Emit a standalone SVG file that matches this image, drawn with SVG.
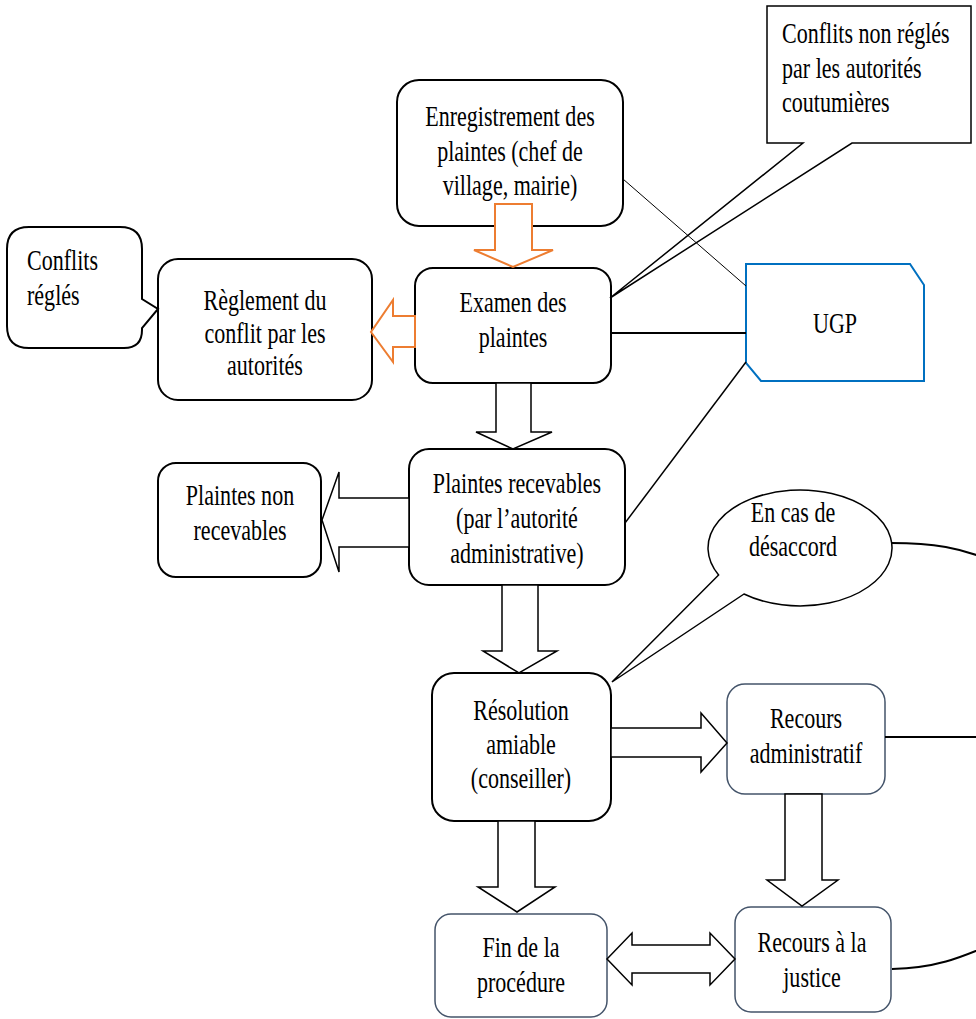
<svg xmlns="http://www.w3.org/2000/svg" width="976" height="1019" viewBox="0 0 976 1019">
<style>
.box{fill:#fff;stroke:#000;stroke-width:2}
.sbox{fill:#fff;stroke:#44546A;stroke-width:1.5}
.t{font-family:"Liberation Serif","Times New Roman",serif;font-size:29px;fill:#000;text-anchor:middle}
.l{text-anchor:start}
.ba{fill:#fff;stroke:#000;stroke-width:1.5;stroke-linejoin:miter}
.oa{fill:#fff;stroke:#ED7D31;stroke-width:2}
.ln{fill:none;stroke:#000}
</style>
<rect width="976" height="1019" fill="#fff"/>
<g id="nodes" font-family="Liberation Serif, serif">
<g id="enregistrement">
<rect class="box" x="397" y="80" width="226" height="146" rx="22"/>
<text class="t" transform="translate(510,126) scale(0.76,1)">Enregistrement des</text>
<text class="t" transform="translate(510,161) scale(0.76,1)">plaintes (chef de</text>
<text class="t" transform="translate(510,195) scale(0.76,1)">village, mairie)</text>
</g>
<g id="examen">
<rect class="box" x="415" y="268" width="196" height="115" rx="18"/>
<text class="t" transform="translate(513,312) scale(0.76,1)">Examen des</text>
<text class="t" transform="translate(513,347) scale(0.76,1)">plaintes</text>
</g>
<g id="reglement">
<rect class="box" x="158" y="259" width="214" height="141" rx="20"/>
<text class="t" transform="translate(265,310) scale(0.76,1)">Règlement du</text>
<text class="t" transform="translate(265,343) scale(0.76,1)">conflit par les</text>
<text class="t" transform="translate(265,375) scale(0.76,1)">autorités</text>
</g>
<g id="conflits-regles">
<path class="box" d="M29,227 H120 Q142,227 142,249 V299 L158,309 L142,328 V330 Q142,348 124,348 H29 Q7,348 7,326 V249 Q7,227 29,227 Z"/>
<text class="t l" transform="translate(27,270) scale(0.76,1)">Conflits</text>
<text class="t l" transform="translate(27,305) scale(0.76,1)">réglés</text>
</g>
<g id="non-recevables">
<rect class="box" x="158" y="463" width="163" height="114" rx="18"/>
<text class="t" transform="translate(240,505) scale(0.76,1)">Plaintes non</text>
<text class="t" transform="translate(240,540) scale(0.76,1)">recevables</text>
</g>
<g id="recevables">
<rect class="box" x="409" y="449" width="216" height="136" rx="20"/>
<text class="t" transform="translate(517,493) scale(0.76,1)">Plaintes recevables</text>
<text class="t" transform="translate(517,528) scale(0.76,1)">(par l’autorité</text>
<text class="t" transform="translate(517,563) scale(0.76,1)">administrative)</text>
</g>
<g id="ugp">
<path d="M746,264 H910 L924,285 V381 H761 L746,363 Z" fill="#fff" stroke="#0070C0" stroke-width="2"/>
<text class="t" transform="translate(835,333) scale(0.76,1)">UGP</text>
</g>
<g id="conflits-non-regles">
<path d="M767,6 H971 V143 H852 L610,298 L803,143 H767 Z" fill="#fff" stroke="#000" stroke-width="1.5"/>
<text class="t l" transform="translate(782,43) scale(0.76,1)">Conflits non réglés</text>
<text class="t l" transform="translate(782,78) scale(0.76,1)">par les autorités</text>
<text class="t l" transform="translate(782,112) scale(0.76,1)">coutumières</text>
</g>
<g id="desaccord">
<path d="M718.6,575 A92,58 0 1 1 744,594 L612,682 Z" fill="#fff" stroke="#000" stroke-width="1.5"/>
<text class="t" transform="translate(793,522) scale(0.76,1)">En cas de</text>
<text class="t" transform="translate(793,556) scale(0.76,1)">désaccord</text>
</g>
<g id="resolution">
<rect class="box" x="432" y="673" width="179" height="148" rx="22"/>
<text class="t" transform="translate(521,720) scale(0.76,1)">Résolution</text>
<text class="t" transform="translate(521,754) scale(0.76,1)">amiable</text>
<text class="t" transform="translate(521,788) scale(0.76,1)">(conseiller)</text>
</g>
<g id="recours-administratif">
<rect class="sbox" x="727" y="684" width="158" height="110" rx="18"/>
<text class="t" transform="translate(806,728) scale(0.76,1)">Recours</text>
<text class="t" transform="translate(806,763) scale(0.76,1)">administratif</text>
</g>
<g id="fin">
<rect class="sbox" x="435" y="914" width="172" height="103" rx="16"/>
<text class="t" transform="translate(521,957) scale(0.76,1)">Fin de la</text>
<text class="t" transform="translate(521,992) scale(0.76,1)">procédure</text>
</g>
<g id="justice">
<rect class="sbox" x="735" y="907" width="156" height="105" rx="16"/>
<text class="t" transform="translate(812,952) scale(0.76,1)">Recours à la</text>
<text class="t" transform="translate(812,987) scale(0.76,1)">justice</text>
</g>
</g>
<g id="connectors">
<line class="ln" x1="623" y1="179" x2="746" y2="286" stroke-width="1"/>
<line class="ln" x1="611" y1="333" x2="746" y2="333" stroke-width="2"/>
<line class="ln" x1="625" y1="523" x2="746" y2="362" stroke-width="1.5"/>
<line class="ln" x1="885" y1="737" x2="976" y2="737" stroke-width="2"/>
<path class="ln" stroke-width="2" d="M891,543 C935,543 960,548 990,560 C1030,580 1030,930 990,945 C960,958 935,968 892,969"/>
<polygon class="oa" points="495,204 532,204 532,250 553,250 513,267 474,250 495,250"/>
<polygon class="oa" points="415,316 393,316 393,300 371,332 393,362 393,347 415,347"/>
<polygon class="ba" points="496,383 531,383 531,432 552,432 513,449 476,432 496,432"/>
<polygon class="ba" points="409,498 339,498 339,472 322,520 339,572 339,547 409,547"/>
<polygon class="ba" points="502,585 538,585 538,651 557,651 519,673 483,651 502,651"/>
<polygon class="ba" points="611,728 701,728 701,713 727,743 701,772 701,757 611,757"/>
<polygon class="ba" points="498,821 535,821 535,887 555,887 517,912 478,887 498,887"/>
<polygon class="ba" points="785,794 822,794 822,880 838,880 802,906 767,880 785,880"/>
<polygon class="ba" points="607,959 632,933 632,945 710,945 710,933 735,959 710,985 710,973 632,973 632,985"/>
</g>
</svg>
